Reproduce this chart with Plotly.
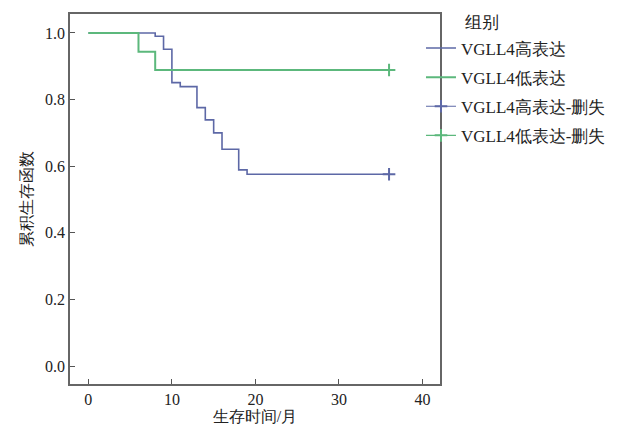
import plotly.graph_objects as go

# Data
high_time = [0, 8, 9, 10, 11, 13, 14, 15, 16, 18, 19, 36]
high_surv = [1.0, 0.99, 0.951, 0.851, 0.839, 0.776, 0.739, 0.70, 0.651, 0.589, 0.576, 0.576]
low_time = [0, 6, 8, 36]
low_surv = [1.0, 0.944, 0.889, 0.889]
high_cens_time = [36]
high_cens_surv = [0.576]
low_cens_time = [36]
low_cens_surv = [0.889]

names = ["VGLL4高表达", "VGLL4低表达", "VGLL4高表达-删失", "VGLL4低表达-删失"]
x_ticks = [0, 10, 20, 30, 40]
y_ticks = [0.0, 0.2, 0.4, 0.6, 0.8, 1.0]

BLUE = "#5d68a6"
GREEN = "#5cb87c"
FONT = "Liberation Serif"
TXT = "#222222"

fig = go.Figure()
fig.add_trace(go.Scatter(x=high_time, y=high_surv, mode="lines", line_shape="hv",
                         line=dict(color=BLUE, width=1.6), name=names[0], legendgroup="a"))
fig.add_trace(go.Scatter(x=low_time, y=low_surv, mode="lines", line_shape="hv",
                         line=dict(color=GREEN, width=2), name=names[1], legendgroup="b"))
fig.add_trace(go.Scatter(x=high_cens_time, y=high_cens_surv, mode="lines+markers",
                         line=dict(color=BLUE, width=1.2),
                         marker=dict(symbol="cross-thin", size=9, line=dict(color=BLUE, width=2)),
                         name=names[2], legendgroup="c"))
fig.add_trace(go.Scatter(x=low_cens_time, y=low_cens_surv, mode="lines+markers",
                         line=dict(color=GREEN, width=1.2),
                         marker=dict(symbol="cross-thin", size=9, line=dict(color=GREEN, width=2)),
                         name=names[3], legendgroup="d"))

axis_common = dict(showgrid=False, zeroline=False, showline=True, linecolor="#666666",
                   linewidth=1.5, mirror=True, ticks="inside", ticklen=5, tickwidth=1.2,
                   tickcolor="#555555", tickfont=dict(family=FONT, size=16, color=TXT))

fig.update_xaxes(range=[-2.2, 42.1], tickvals=x_ticks, ticktext=[str(v) for v in x_ticks],
                 title=dict(text="生存时间/月", font=dict(family=FONT, size=16, color=TXT),
                            standoff=0), **axis_common)
fig.update_yaxes(range=[-0.054, 1.057], tickvals=y_ticks, ticktext=[f"{v:.1f}" for v in y_ticks],
                 title=dict(text="累积生存函数", font=dict(family=FONT, size=16, color=TXT),
                            standoff=8), **axis_common)

fig.add_annotation(x=1.062, y=0.978, xref="paper", yref="paper", text="组别", showarrow=False,
                   xanchor="left", yanchor="middle", font=dict(family=FONT, size=17, color=TXT))

fig.update_layout(
    width=618, height=422,
    margin=dict(l=62, r=186, t=6, b=46, autoexpand=False),
    plot_bgcolor="white", paper_bgcolor="white",
    font=dict(family=FONT, size=16, color=TXT),
    legend=dict(x=0.9486, xanchor="left", y=0.9554, yanchor="top", bgcolor="rgba(0,0,0,0)",
                font=dict(family=FONT, size=17, color=TXT), tracegroupgap=4,
                itemwidth=30),
    showlegend=True,
)

fig.write_html("out.html")
